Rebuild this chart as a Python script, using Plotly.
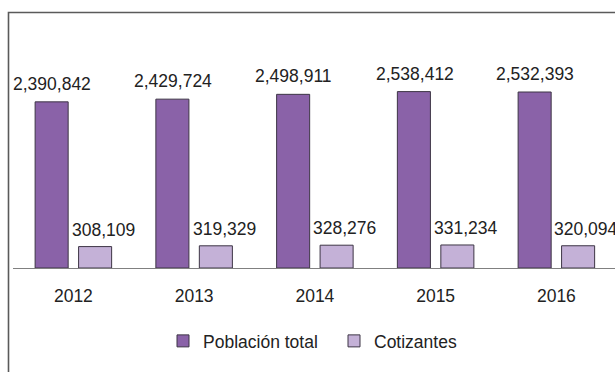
import plotly.graph_objects as go

# Population vs. contributors by year
years = ["2012", "2013", "2014", "2015", "2016"]
poblacion_total = [2390842, 2429724, 2498911, 2538412, 2532393]
cotizantes = [308109, 319329, 328276, 331234, 320094]

series_names = ["Población total", "Cotizantes"]
fill_colors = ["#8a62a8", "#c4b1d7"]

W, H = 615, 372
ML, MR, MT, MB = 13, 0, 14, 104
plot_w = W - ML - MR
plot_h = H - MT - MB
band = 120.75                      # pixel width of one year band
x_end = plot_w / band - 0.5
y_max = 3655000

font_family = "Arial, Liberation Sans, sans-serif"
text_color = "#222222"

fig = go.Figure()
for name, vals, col in zip(series_names, [poblacion_total, cotizantes], fill_colors):
    fig.add_trace(go.Bar(
        x=years, y=vals, name=name,
        marker=dict(color=col, line=dict(color="#3d3545", width=1)),
        hoverinfo="x+y",
    ))

# value labels above each bar (x given as category index)
def fmt(v):
    return f"{v:,}"

for vals, xs, ys in [(poblacion_total, -21, 6), (cotizantes, 30, 5)]:
    for i, v in enumerate(vals):
        fig.add_annotation(
            x=i, y=v, xref="x", yref="y", text=fmt(v), showarrow=False,
            xanchor="center", yanchor="bottom", xshift=xs, yshift=ys,
            font=dict(family=font_family, size=17.5, color=text_color),
        )

# outer frame (left and top edges visible)
px_to_paper_x = lambda p: (p - ML) / plot_w
px_to_paper_y = lambda p: (H - MB - p) / plot_h
fig.add_shape(
    type="rect", xref="paper", yref="paper",
    x0=px_to_paper_x(8.5), x1=1.2, y0=-1.0, y1=px_to_paper_y(12.5),
    line=dict(color="#5a5a5a", width=1.6), fillcolor="rgba(0,0,0,0)",
    layer="above",
)

fig.update_layout(
    width=W, height=H,
    margin=dict(l=ML, r=MR, t=MT, b=MB, pad=0),
    paper_bgcolor="white", plot_bgcolor="white",
    barmode="group", bargap=0.28, bargroupgap=0.24,
    font=dict(family=font_family, size=17.5, color=text_color),
    showlegend=True,
    legend=dict(
        orientation="h", x=px_to_paper_x(163), xanchor="left",
        y=px_to_paper_y(341), yanchor="middle",
        entrywidth=126, entrywidthmode="pixels",
        font=dict(family=font_family, size=17.5, color=text_color),
        bgcolor="rgba(0,0,0,0)",
    ),
    xaxis=dict(
        type="category", range=[-0.5, x_end],
        showline=True, linecolor="#808080", linewidth=1,
        showgrid=False, zeroline=False, ticks="",
        ticklabelstandoff=12,
        tickfont=dict(family=font_family, size=17.5, color=text_color),
    ),
    yaxis=dict(
        range=[0, y_max], showgrid=False, zeroline=False,
        showticklabels=False, showline=False, ticks="",
    ),
)

fig.write_html("out.html")
